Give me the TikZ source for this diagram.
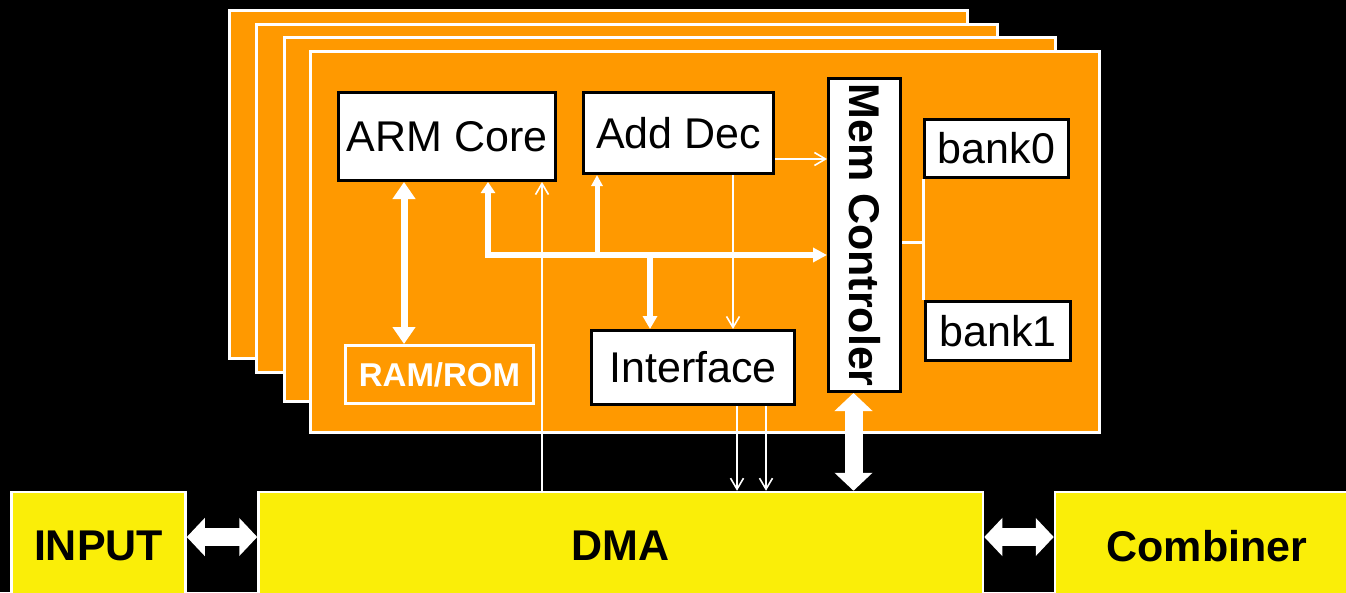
\documentclass[tikz,border=0pt]{standalone}
\usepackage{fontspec}
\setmainfont{Liberation Sans}
\usetikzlibrary{arrows.meta}
\definecolor{orng}{RGB}{255,153,0}
\definecolor{ylw}{RGB}{250,238,8}
\begin{document}
\begin{tikzpicture}[x=1pt,y=-1pt,
  panel/.style={fill=orng,draw=white,line width=3pt},
  wbox/.style={draw=black,fill=white,line width=3pt,inner sep=0pt,font=\fontsize{43}{50}\selectfont},
  ybox/.style={draw=white,fill=ylw,line width=2.5pt,inner sep=0pt,font=\fontsize{43}{50}\selectfont\bfseries},
  rbox/.style={draw=white,line width=3pt,inner sep=0pt,text=white,font=\fontsize{33}{40}\selectfont\bfseries},
  thinarr/.style={draw=white,line width=1.6pt,-{Straight Barb[width=13pt,length=11pt]}},
  busline/.style={draw=white,line width=6pt},
  bigarr/.style={draw=white,line width=18pt,{Triangle[width=37pt,length=18pt]}-{Triangle[width=37pt,length=18pt]}}
]
\path[use as bounding box,fill=black] (0,0) rectangle (1346,592);
\clip (0,0) rectangle (1346,592);
% stacked panels
\draw[panel] (229.5,10.5) rectangle (967.5,358.5);
\draw[panel] (256.5,24.5) rectangle (997.5,372.5);
\draw[panel] (284.5,37.5) rectangle (1055.5,401.5);
\draw[panel] (310.5,51.5) rectangle (1099.5,432.5);
% boxes
\node[wbox,minimum width=217pt,minimum height=88pt] (arm) at (447,136.5) {ARM Core};
\node[wbox,minimum width=190pt,minimum height=81pt] (adddec) at (678.5,133) {Add Dec};
\node[wbox,minimum width=72pt,minimum height=313pt,font=\fontsize{43}{50}\selectfont\bfseries] (mem) at (864.5,235) {\rotatebox{-90}{Mem Controler}};
\node[wbox,minimum width=144pt,minimum height=58pt] (bank0) at (996.5,148.5) {bank0};
\node[wbox,minimum width=145pt,minimum height=59pt] (bank1) at (998,331) {bank1};
\node[wbox,minimum width=203pt,minimum height=74pt] (iface) at (693,367.5) {Interface};
\node[rbox,minimum width=188pt,minimum height=58pt] (ram) at (439.5,374.5) {RAM/ROM};
\node[ybox,minimum width=174pt,minimum height=108pt] (input) at (98.5,546) {INPUT};
\node[ybox,minimum width=724.5pt,minimum height=108pt] (dma) at (620.75,546) {DMA};
\node[ybox,minimum width=304pt,minimum height=108pt] (comb) at (1207,546) {Combiner};
% guide coordinates
\coordinate (xa) at (542,0);
\coordinate (xb) at (737,0);
\coordinate (xc) at (766,0);
\coordinate (xd) at (733,0);
\coordinate (xr) at (404,0);
\coordinate (bj) at (488,255);
\coordinate (j1) at (597,255);
\coordinate (j2) at (650,255);
% bus
\draw[busline,{Triangle[width=14pt,length=11pt]}-{Triangle[width=14pt,length=14pt]}] (arm.south -| bj) |- (mem.west |- bj);
\draw[draw=white,line width=5pt,-{Triangle[width=11pt,length=11pt]}] (j1) -- (adddec.south -| j1);
\draw[busline,-{Triangle[width=14pt,length=13pt]}] (j2) -- (iface.north -| j2);
% ARM <-> RAM/ROM
\draw[draw=white,line width=7pt,{Triangle[width=22pt,length=17pt]}-{Triangle[width=22pt,length=17pt]}] (arm.south -| xr) -- (ram.north -| xr);
% thin arrows
\draw[thinarr] (dma.north -| xa) -- (arm.south -| xa);
\draw[thinarr] (iface.south -| xb) -- (dma.north -| xb);
\draw[thinarr] (iface.south -| xc) -- (dma.north -| xc);
\draw[thinarr] (adddec.south -| xd) -- (iface.north -| xd);
\draw[thinarr] ([yshift=-26pt]adddec.east) -- ([yshift=-26pt]adddec.east -| mem.west);
% banks
\draw[white,line width=3pt] ([yshift=-7pt]mem.east) -- ([yshift=-7pt]mem.east -| bank0.south west);
\draw[white,line width=3pt] (bank0.south west) -- (bank0.south west |- bank1.north west);
% big arrows
\draw[bigarr] ([xshift=-11pt]mem.south) -- ([xshift=-11pt]mem.south |- dma.north);
\draw[bigarr] ([yshift=9pt]input.east) -- ([yshift=9pt]input.east -| dma.west);
\draw[bigarr] ([yshift=9pt]dma.east) -- ([yshift=9pt]dma.east -| comb.west);
\end{tikzpicture}
\end{document}
